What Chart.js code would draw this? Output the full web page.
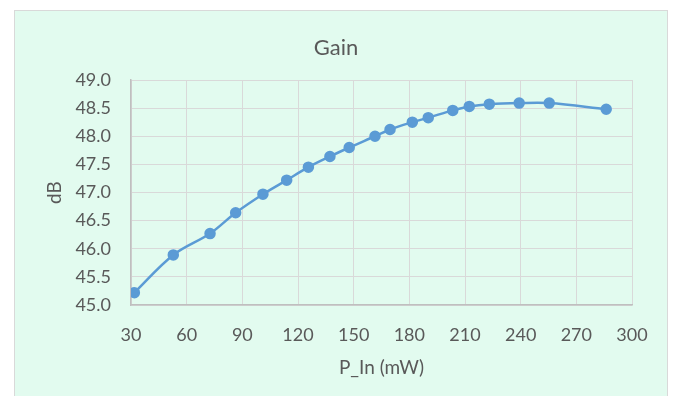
<!DOCTYPE html>
<html>
<head>
<meta charset="utf-8">
<script src="https://cdn.jsdelivr.net/npm/chart.js@4/dist/chart.umd.min.js"></script>
<style>
  html, body { margin: 0; padding: 0; background: #fff; }
  #wrap { width: 673px; height: 396px; }
</style>
</head>
<body>
<div id="wrap"><canvas id="gain-chart" width="673" height="396"></canvas></div>
<script>
// values
var pIn = [31.8, 52.8, 72.6, 86.4, 101.1, 113.9, 125.6, 137.2, 147.6, 161.5, 169.6,
           181.6, 190.2, 203.4, 212.3, 223.1, 239.2, 255.4, 286.1];
var gainDb = [45.22, 45.89, 46.27, 46.64, 46.97, 47.22, 47.45, 47.64, 47.80, 48.00, 48.12,
              48.25, 48.33, 48.46, 48.53, 48.57, 48.59, 48.59, 48.48];
var xTicks = [30, 60, 90, 120, 150, 180, 210, 240, 270, 300];
var yTicks = [45.0, 45.5, 46.0, 46.5, 47.0, 47.5, 48.0, 48.5, 49.0];

var points = pIn.map(function (x, i) { return { x: x, y: gainDb[i] }; });

var FONT = "Lato, 'Open Sans', sans-serif";
var TEXT = "#595959";

// mint panel behind the chart, like the spreadsheet chart area
var panel = {
    id: "panel",
    beforeDraw: function (chart) {
        var c = chart.ctx;
        c.save();
        c.fillStyle = "#E2FBEF";
        c.fillRect(14, 10, 654, 390);
        c.strokeStyle = "#D9D9D9";
        c.lineWidth = 1;
        c.strokeRect(14.5, 10.5, 653, 390);
        c.restore();
    }
};

new Chart(document.getElementById("gain-chart").getContext("2d"), {
    type: "line",
    data: {
        datasets: [{
            data: points,
            borderColor: "#5B9BD5",
            backgroundColor: "#5B9BD5",
            pointBackgroundColor: "#5B9BD5",
            pointBorderColor: "#5B9BD5",
            borderWidth: 2.5,
            pointRadius: 4.5,
            tension: 0.35
        }]
    },
    plugins: [panel],
    options: {
        responsive: false,
        animation: false,
        layout: { padding: { left: 40, right: 41, top: 10, bottom: 14 } },
        plugins: {
            legend: { display: false },
            tooltip: { enabled: false },
            title: {
                display: true,
                text: "Gain",
                color: TEXT,
                font: { family: FONT, size: 22, weight: "normal" },
                padding: { top: 25, bottom: 18.6 }
            }
        },
        scales: {
            x: {
                type: "linear",
                min: 30,
                max: 300,
                afterBuildTicks: function (s) { s.ticks = xTicks.map(function (v) { return { value: v }; }); },
                afterFit: function (s) { s.height = 77; },
                grid: { color: "#D9D9D9", drawTicks: false },
                border: { color: "#BFBFBF", width: 1.5 },
                ticks: { color: TEXT, padding: 19, font: { family: FONT, size: 18 } },
                title: {
                    display: true,
                    text: "P_In (mW)",
                    color: TEXT,
                    font: { family: FONT, size: 19 },
                    padding: { top: 6, bottom: 3 }
                }
            },
            y: {
                min: 45,
                max: 49,
                afterBuildTicks: function (s) { s.ticks = yTicks.map(function (v) { return { value: v }; }); },
                afterFit: function (s) { s.width = 91; },
                grid: { color: "#D9D9D9", drawTicks: false },
                border: { color: "#BFBFBF", width: 1.5 },
                ticks: {
                    color: TEXT,
                    padding: 20,
                    font: { family: FONT, size: 18 },
                    callback: function (v) { return Number(v).toFixed(1); }
                },
                title: {
                    display: true,
                    text: "dB",
                    color: TEXT,
                    font: { family: FONT, size: 19 },
                    padding: { top: 3, bottom: 0 }
                }
            }
        }
    }
});
</script>
</body>
</html>
